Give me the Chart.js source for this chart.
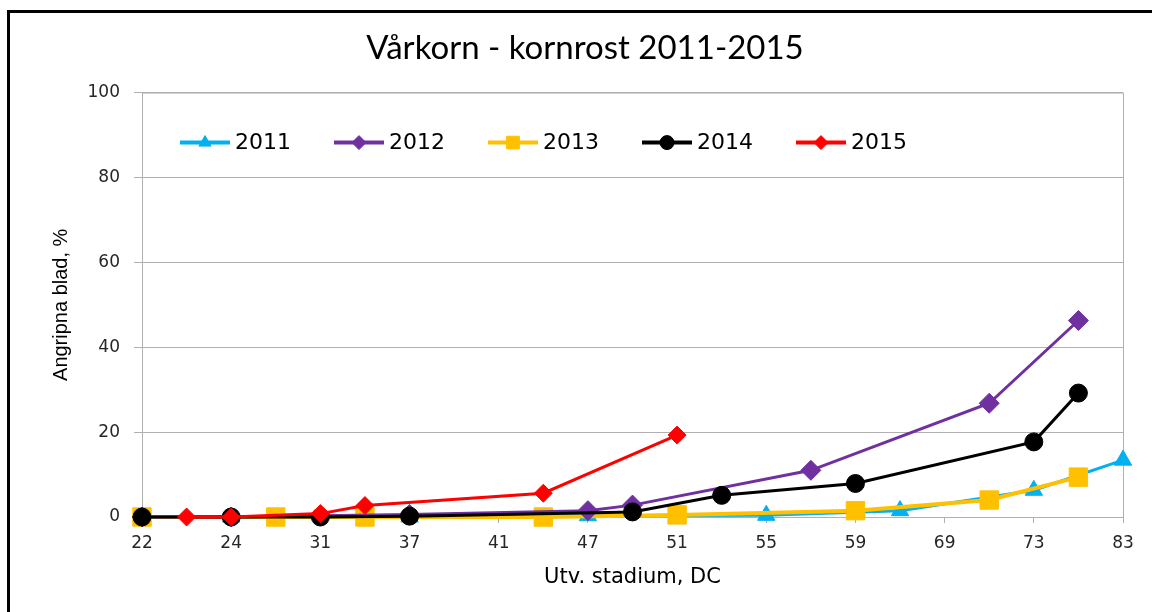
<!DOCTYPE html>
<html>
<head>
<meta charset="utf-8">
<script src="https://cdn.jsdelivr.net/npm/chart.js@4"></script>
<style>
	html, body { margin: 0; padding: 0; background: #fff; overflow: hidden; }
	#frame { position: absolute; left: 7px; top: 10px; width: 1200px; height: 700px; border-left: 3px solid #000; border-top: 3px solid #000; }
	#wrap { position: absolute; left: 0; top: 0; width: 1152px; height: 612px; }
</style>
</head>
<body>
<div id="frame"></div>
<div id="wrap"><canvas id="chart"></canvas></div>
<script>
// x axis: development stages (DC), one category per gridline
const stageLabels = ["22", "24", "31", "37", "41", "47", "51", "55", "59", "69", "73", "83"];

// positions are in category units (0 = "22", 0.5 = halfway to "24", ...)
const pos2011 = [0, 1, 3, 5, 7, 8.5, 10, 11];
const val2011 = [0, 0, 0, 0.3, 0.4, 1.5, 6.3, 13.4];

const pos2012 = [0, 1, 2, 3, 5, 5.5, 7.5, 9.5, 10.5];
const val2012 = [0, 0, 0.3, 0.6, 1.5, 2.8, 11, 26.8, 46.3];

const pos2013 = [0, 1.5, 2.5, 4.5, 6, 8, 9.5, 10.5];
const val2013 = [0, 0, 0, 0, 0.5, 1.5, 4, 9.4];

const pos2014 = [0, 1, 2, 3, 5.5, 6.5, 8, 10, 10.5];
const val2014 = [0, 0, 0, 0.2, 1.2, 5.1, 7.9, 17.7, 29.2];

const pos2015 = [0.5, 1, 2, 2.5, 4.5, 6];
const val2015 = [0, 0, 0.8, 2.7, 5.6, 19.3];

const yTicks = [0, 20, 40, 60, 80, 100];

function toPoints(xs, ys) {
	return xs.map((x, i) => ({ x: x, y: ys[i] }));
}

function series(label, xs, ys, color, style, radius, order, width) {
	return {
		label: label,
		data: toPoints(xs, ys),
		borderColor: color,
		backgroundColor: color,
		borderWidth: width || 3,
		pointStyle: style,
		pointRadius: radius,
		pointBorderWidth: 1,
		pointBorderColor: color,
		pointBackgroundColor: color,
		tension: 0,
		clip: false,
		order: order
	};
}

// legend drawn inside the plot area, like the original
const innerLegend = {
	id: "innerLegend",
	afterDraw(chart) {
		const ctx = chart.ctx;
		const area = chart.chartArea;
		const y = area.top + 50;
		ctx.save();
		chart.data.datasets.forEach((ds, i) => {
			const x0 = area.left + 38 + i * 154;
			ctx.strokeStyle = ds.borderColor;
			ctx.lineWidth = 4;
			ctx.beginPath();
			ctx.moveTo(x0, y);
			ctx.lineTo(x0 + 50, y);
			ctx.stroke();
			ctx.fillStyle = ds.backgroundColor;
			ctx.strokeStyle = ds.borderColor;
			ctx.lineWidth = 1;
			Chart.helpers.drawPoint(ctx, { pointStyle: ds.pointStyle, radius: ds.pointStyle === "rect" ? 9 : 7, rotation: 0, borderWidth: 1 }, x0 + 25, y);
			ctx.fillStyle = "#000";
			ctx.font = "22px 'DejaVu Sans'";
			ctx.textBaseline = "middle";
			ctx.textAlign = "left";
			ctx.fillText(ds.label, x0 + 55, y + 1);
		});
		ctx.restore();
	}
};

// grey frame round the plot area
const plotFrame = {
	id: "plotFrame",
	beforeDatasetsDraw(chart) {
		const a = chart.chartArea;
		const ctx = chart.ctx;
		ctx.save();
		ctx.strokeStyle = "#b0b0b0";
		ctx.lineWidth = 1;
		ctx.beginPath();
		ctx.moveTo(a.left, a.top + 0.5);
		ctx.lineTo(a.right + 0.5, a.top + 0.5);
		ctx.lineTo(a.right + 0.5, a.bottom);
		ctx.stroke();
		ctx.restore();
	}
};

new Chart(document.getElementById("chart"), {
	type: "line",
	data: {
		datasets: [
			series("2011", pos2011, val2011, "#00b0f0", "triangle", 10, 5),
			series("2012", pos2012, val2012, "#7030a0", "rectRot", 10, 3),
			series("2013", pos2013, val2013, "#ffc000", "rect", 13, 4, 4),
			series("2014", pos2014, val2014, "#000000", "circle", 9, 2),
			series("2015", pos2015, val2015, "#ff0000", "rectRot", 9, 1)
		]
	},
	options: {
		responsive: true,
		maintainAspectRatio: false,
		animation: false,
		layout: { padding: { left: 47, right: 29, top: 0, bottom: 0 } },
		plugins: {
			legend: { display: false },
			tooltip: { enabled: false },
			title: {
				display: true,
				text: "Vårkorn - kornrost 2011-2015",
				color: "#000",
				font: { family: "Lato", size: 33, weight: "normal" },
				padding: { top: 29, bottom: 24 }
			}
		},
		scales: {
			x: {
				type: "linear",
				min: 0,
				max: stageLabels.length - 1,
				afterFit(scale) { scale.height = 95; },
				afterBuildTicks(scale) {
					scale.ticks = stageLabels.map((s, i) => ({ value: i }));
				},
				ticks: {
					autoSkip: false,
					maxRotation: 0,
					padding: 10,
					color: "#262626",
					font: { family: "DejaVu Sans", size: 17 },
					callback: (v) => stageLabels[v]
				},
				grid: { drawOnChartArea: false, tickLength: 6, color: "#b0b0b0" },
				border: { color: "#b0b0b0" },
				title: {
					display: true,
					text: "Utv. stadium, DC",
					color: "#000",
					font: { family: "DejaVu Sans", size: 21 },
					padding: { top: 0, bottom: 22 }
				}
			},
			y: {
				min: 0,
				max: 100,
				afterFit(scale) { scale.width = 95; },
				afterBuildTicks(scale) {
					scale.ticks = yTicks.map((v) => ({ value: v }));
				},
				ticks: {
					padding: 14,
					color: "#262626",
					font: { family: "DejaVu Sans", size: 17 }
				},
				grid: { color: "#b0b0b0", tickLength: 8 },
				border: { color: "#b0b0b0" },
				title: {
					display: true,
					text: "Angripna blad, %",
					color: "#000",
					font: { family: "Liberation Sans", size: 20 },
					padding: { top: 2, bottom: 0 }
				}
			}
		}
	},
	plugins: [innerLegend, plotFrame]
});
</script>
</body>
</html>
